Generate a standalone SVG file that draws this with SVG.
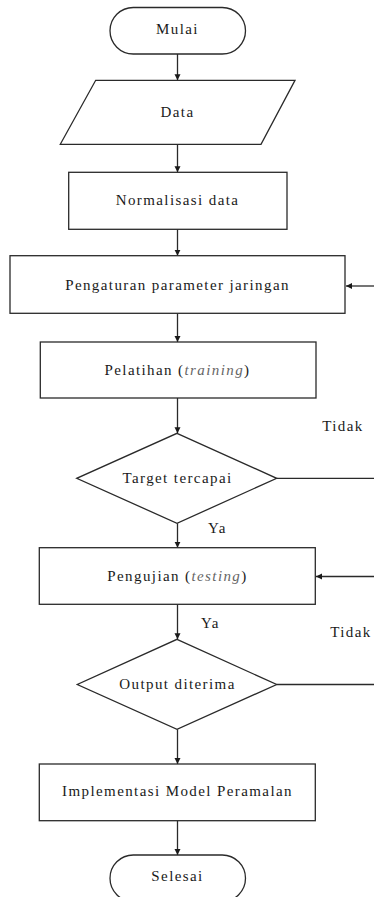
<svg xmlns="http://www.w3.org/2000/svg" width="374" height="897" viewBox="0 0 374 897">
<style>
.s{fill:#fff;stroke:#2a2a2a;stroke-width:1.3}
.t{font-family:"Liberation Serif","Times New Roman",serif;font-size:15px;fill:#1a1a1a;letter-spacing:1.4px;text-anchor:middle}
.i{font-style:italic;fill:#666}
.c{fill:none;stroke:#2a2a2a;stroke-width:1.3}
</style>
<defs>
<marker id="ah" markerUnits="userSpaceOnUse" markerWidth="7" markerHeight="7" refX="6" refY="3" orient="auto">
<path d="M0,0 L6,3 L0,6 z" fill="#1a1a1a"/>
</marker>
</defs>
<rect width="374" height="897" fill="#fff"/>
<g id="connectors">
<line class="c" x1="177.5" y1="54" x2="177.5" y2="80.3" marker-end="url(#ah)"/>
<line class="c" x1="177.5" y1="144.3" x2="177.5" y2="172.3" marker-end="url(#ah)"/>
<line class="c" x1="177.5" y1="229.3" x2="177.5" y2="255.7" marker-end="url(#ah)"/>
<line class="c" x1="177.5" y1="313.3" x2="177.5" y2="342" marker-end="url(#ah)"/>
<line class="c" x1="177.5" y1="398" x2="177.5" y2="433.3" marker-end="url(#ah)"/>
<line class="c" x1="177.5" y1="523.3" x2="177.5" y2="547.7" marker-end="url(#ah)"/>
<line class="c" x1="177.5" y1="604.3" x2="177.5" y2="639.3" marker-end="url(#ah)"/>
<line class="c" x1="177.5" y1="729.3" x2="177.5" y2="764" marker-end="url(#ah)"/>
<line class="c" x1="177.5" y1="820.7" x2="177.5" y2="855" marker-end="url(#ah)"/>
<line class="c" x1="276.7" y1="478.3" x2="374" y2="478.3"/>
<line class="c" x1="276.7" y1="684.5" x2="374" y2="684.5"/>
<line class="c" x1="374" y1="286" x2="346" y2="286" marker-end="url(#ah)"/>
<line class="c" x1="374" y1="576.5" x2="316" y2="576.5" marker-end="url(#ah)"/>
<text class="t" x="343" y="430.5">Tidak</text>
<text class="t" x="351" y="637">Tidak</text>
<text class="t" x="217.5" y="533">Ya</text>
<text class="t" x="210.5" y="628">Ya</text>
</g>
<g id="mulai">
<rect class="s" x="110" y="7.5" width="135.5" height="46.5" rx="23.25"/>
<text class="t" x="177.5" y="34">Mulai</text>
</g>
<g id="data">
<polygon class="s" points="95.7,80.3 295,80.3 261,144.3 60.3,144.3"/>
<text class="t" x="177.5" y="117">Data</text>
</g>
<g id="normalisasi">
<rect class="s" x="68.7" y="172.3" width="218.3" height="57"/>
<text class="t" x="177.5" y="204.5">Normalisasi data</text>
</g>
<g id="pengaturan">
<rect class="s" x="10" y="255.7" width="335" height="57.6"/>
<text class="t" x="177.5" y="290">Pengaturan parameter jaringan</text>
</g>
<g id="pelatihan">
<rect class="s" x="40.3" y="342" width="275.7" height="56"/>
<text class="t" x="177.5" y="374.5">Pelatihan (<tspan class="i">training</tspan>)</text>
</g>
<g id="target">
<polygon class="s" points="177,433.3 276.7,478.3 177,523.3 76.7,478.3"/>
<text class="t" x="177.5" y="483">Target tercapai</text>
</g>
<g id="pengujian">
<rect class="s" x="39.3" y="547.7" width="276" height="56.6"/>
<text class="t" x="177.5" y="580.5">Pengujian (<tspan class="i">testing</tspan>)</text>
</g>
<g id="output">
<polygon class="s" points="177,639.3 276.7,684.5 177,729.3 77.3,684.5"/>
<text class="t" x="177.5" y="688.5">Output diterima</text>
</g>
<g id="implementasi">
<rect class="s" x="39.3" y="764" width="276" height="56.7"/>
<text class="t" x="177.5" y="795.5">Implementasi Model Peramalan</text>
</g>
<g id="selesai">
<rect class="s" x="110" y="855" width="135.5" height="46.5" rx="23.25"/>
<text class="t" x="177.5" y="881">Selesai</text>
</g>
</svg>
